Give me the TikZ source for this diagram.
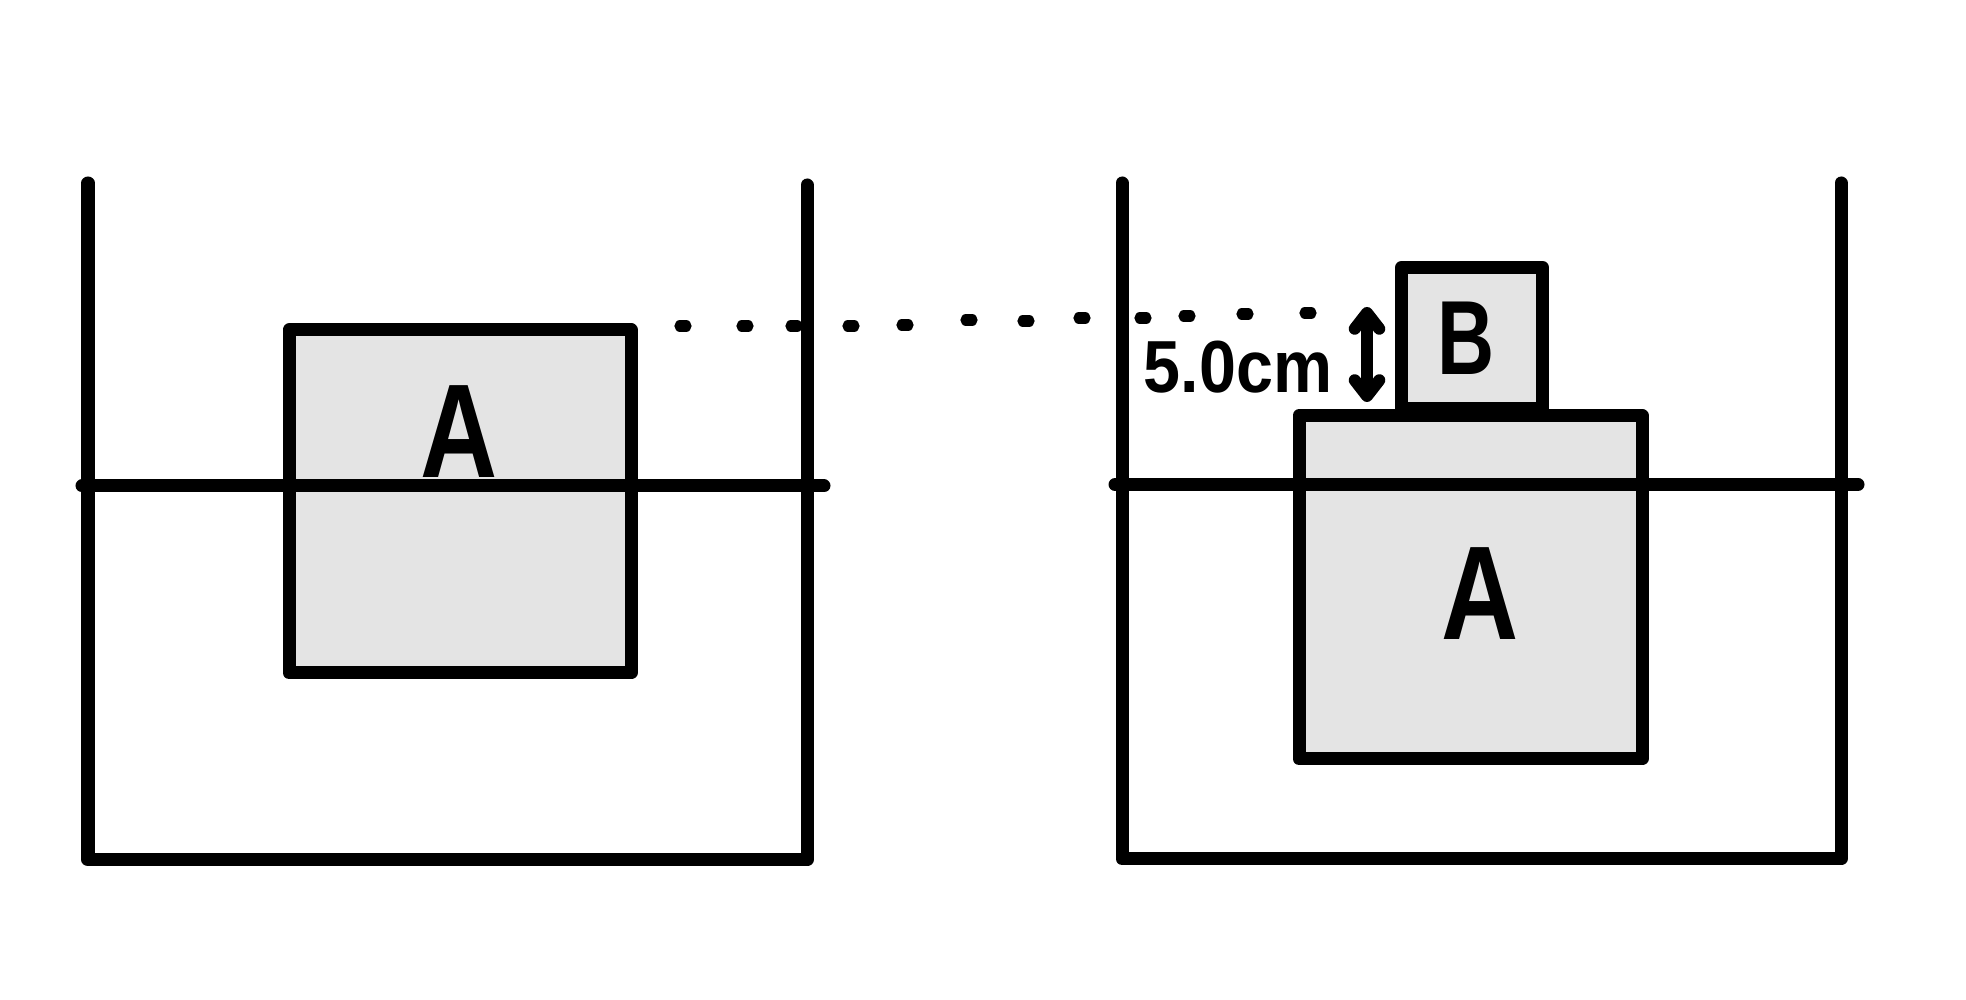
\documentclass[tikz,border=0pt]{standalone}
\usepackage{fontspec}
\setmainfont{Liberation Sans}
\usetikzlibrary{arrows.meta}
\definecolor{blockgray}{HTML}{E4E4E4}
\tikzset{
	heavy/.style={line width=3.7pt, line join=round, line cap=round},
	block/.style={heavy, fill=blockgray},
	letter/.style={inner sep=0pt, font=\fontsize{38}{38}\selectfont\bfseries, xscale=0.8}
}
\begin{document}
\begin{tikzpicture}[>={Straight Barb[round,length=4.5pt,width=7pt]}]
	\useasboundingbox (0,0) rectangle (19.66,10);
	% left tank
	\draw[block] (2.89,6.70) rectangle (6.31,3.27);
	\draw[heavy] (0.88,8.17) -- (0.88,1.40) -- (8.07,1.40) -- (8.07,8.15);
	\draw[heavy] (0.82,5.14) -- (8.24,5.14);
	\node[letter] (al) at (4.59,5.68) {A};
	% right tank
	\draw[block] (12.99,5.845) rectangle (16.42,2.41);
	\draw[block] (14.015,7.325) rectangle (15.425,5.915);
	\draw[heavy] (11.22,8.17) -- (11.22,1.41) -- (18.41,1.41) -- (18.41,8.17);
	\draw[heavy] (11.15,5.155) -- (18.58,5.155);
	\node[letter] (ar) at (14.80,4.06) {A};
	\node[font=\fontsize{30}{30}\selectfont\bfseries, inner sep=0pt, xscale=0.75] (bl) at (14.66,6.62) {B};
	% height of B above the water
	\node[font=\fontsize{21}{21}\selectfont\bfseries, inner sep=0pt, xscale=0.9] (gap) at (12.38,6.33) {5.0cm};
	\coordinate (gaptop) at (13.67,6.93);
	\coordinate (gapbot) at (13.67,5.98);
	\draw[<->, heavy, line width=3.4pt] (gaptop) -- (gapbot);
	\foreach \x/\y in {6.83/6.74, 7.45/6.74, 7.94/6.74, 8.51/6.74, 9.05/6.75, 9.69/6.80, 10.26/6.79, 10.82/6.82, 11.43/6.82, 11.87/6.84, 12.45/6.86, 13.08/6.87}
		\draw[heavy, line width=3.2pt] (\x-0.03,\y) -- (\x+0.03,\y);
\end{tikzpicture}
\end{document}
